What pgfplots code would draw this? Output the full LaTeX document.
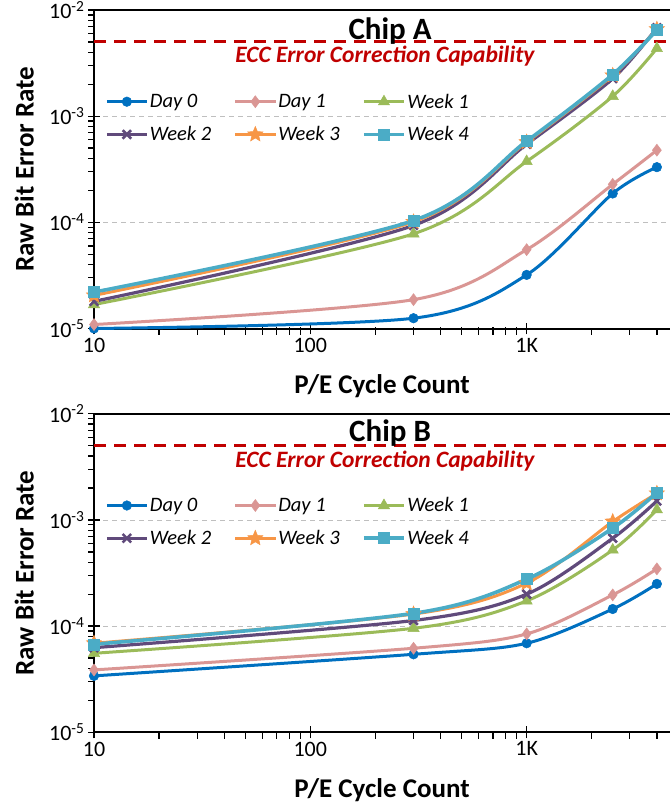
\documentclass[border=0pt]{standalone}
\usepackage{fontspec}
\setmainfont{Carlito}
\usepackage{pgfplots}
\pgfplotsset{compat=1.18}
\usetikzlibrary{plotmarks}

\definecolor{cDayA}{HTML}{0070C0}
\definecolor{cDayB}{HTML}{DA9694}
\definecolor{cWkA}{HTML}{9BBB59}
\definecolor{cWkB}{HTML}{604A7B}
\definecolor{cWkC}{HTML}{F79646}
\definecolor{cWkD}{HTML}{4BACC6}
\definecolor{eccred}{HTML}{C00000}

% filled five-pointed star
\pgfdeclareplotmark{fstar}{%
  \pgfpathmoveto{\pgfpointpolar{90}{\pgfplotmarksize}}%
  \pgfpathlineto{\pgfpointpolar{126}{0.45\pgfplotmarksize}}%
  \pgfpathlineto{\pgfpointpolar{162}{\pgfplotmarksize}}%
  \pgfpathlineto{\pgfpointpolar{198}{0.45\pgfplotmarksize}}%
  \pgfpathlineto{\pgfpointpolar{234}{\pgfplotmarksize}}%
  \pgfpathlineto{\pgfpointpolar{270}{0.45\pgfplotmarksize}}%
  \pgfpathlineto{\pgfpointpolar{306}{\pgfplotmarksize}}%
  \pgfpathlineto{\pgfpointpolar{342}{0.45\pgfplotmarksize}}%
  \pgfpathlineto{\pgfpointpolar{18}{\pgfplotmarksize}}%
  \pgfpathlineto{\pgfpointpolar{54}{0.45\pgfplotmarksize}}%
  \pgfpathclose
  \pgfusepathqfillstroke}

\pgfplotsset{
  every axis/.append style={
    width=576pt, height=318.5pt, scale only axis,
    xmin=10, xmax=4600, ymin=1e-5, ymax=1e-2,
    axis x line*=box, axis y line*=left,
    xtick pos=left, ytick pos=left,
    axis line style={line width=2pt, black},
    xtick={10,100,1000}, xticklabels={10,100,1K},
    extra x ticks={20,30,40,50,60,70,80,90,200,300,400,500,600,700,800,900,2000,3000,4000},
    extra x tick labels={},
    extra x tick style={major tick length=6.5pt, tick align=outside, grid=none},
    ytick={1e-5,1e-4,1e-3,1e-2},
    yticklabels={10\textsuperscript{-5},10\textsuperscript{-4},10\textsuperscript{-3},10\textsuperscript{-2}},
    extra y ticks={2e-5,3e-5,4e-5,5e-5,6e-5,7e-5,8e-5,9e-5,2e-4,3e-4,4e-4,5e-4,6e-4,7e-4,8e-4,9e-4,2e-3,3e-3,4e-3,5e-3,6e-3,7e-3,8e-3,9e-3},
    extra y tick labels={},
    extra y tick style={major tick length=6pt, tick align=outside, grid=none},
    tick align=center,
    major tick length=12pt,
    tick style={black, line width=1.3pt},
    ymajorgrids=true,
    major grid style={gray!50, line width=0.9pt, dash pattern=on 5pt off 4pt},
    tick label style={font=\fontsize{22}{26}\selectfont},
    xlabel={P/E Cycle Count}, ylabel={Raw Bit Error Rate},
    label style={font=\fontsize{27}{30}\selectfont\bfseries},
    x label style={at={(axis description cs:0.5,-0.204)}, anchor=base},
    y label style={at={(axis description cs:-0.105,0.5)}, anchor=base},
    clip=false,
    legend columns=3,
    legend cell align=left,
    legend style={at={(rel axis cs:0.014,0.750)}, anchor=north west, draw=none, fill=none,
      font=\fontsize{20.5}{24}\selectfont\itshape,
      nodes={inner xsep=1.5pt},
      row sep=13pt,
      /tikz/every even column/.append style={column sep=21pt}},
    legend image code/.code={\draw[mark repeat=2,mark phase=2,##1] plot coordinates {(0pt,0pt) (20pt,0pt) (40pt,0pt)};},
  },
  sDayA/.style={cDayA, smooth, line width=3pt, mark=*, mark size=4.8pt, mark options={solid, fill=cDayA, line width=0.5pt}},
  sDayB/.style={cDayB, smooth, line width=3pt, mark=diamond*, mark size=6pt, mark options={solid, fill=cDayB, line width=0.5pt}},
  sWkA/.style={cWkA, smooth, line width=3pt, mark=triangle*, mark size=6.5pt, mark options={solid, fill=cWkA, line width=0.5pt}},
  sWkB/.style={cWkB, smooth, line width=3.2pt, mark=x, mark size=6pt, mark options={solid, line width=2.6pt}},
  sWkC/.style={cWkC, smooth, line width=3pt, mark=fstar, mark size=8pt, mark options={solid, fill=cWkC, line width=0.5pt}},
  sWkD/.style={cWkD, smooth, line width=3.6pt, mark=square*, mark size=5.5pt, mark options={solid, fill=cWkD, line width=0.5pt}},
  sEcc/.style={eccred, line width=3pt, dash pattern=on 12pt off 8pt, no marks, sharp plot, forget plot},
}

\begin{document}
\begin{tikzpicture}
\path[use as bounding box] (0pt,0pt) rectangle (670pt,803pt);

% Chip A
\begin{loglogaxis}[at={(94pt,474.5pt)}, anchor=south west]
\addplot[sEcc] coordinates {(10,5e-3) (4600,5e-3)};
\addplot[sDayA] coordinates {(10,1.0e-5) (300,1.25e-5) (1000,3.2e-5) (2500,1.87e-4) (4000,3.31e-4)};
\addplot[sDayB] coordinates {(10,1.09e-5) (300,1.87e-5) (1000,5.53e-5) (2500,2.28e-4) (4000,4.78e-4)};
\addplot[sWkA] coordinates {(10,1.68e-5) (300,7.8e-5) (1000,3.75e-4) (2500,1.54e-3) (4000,4.35e-3)};
\addplot[sWkB] coordinates {(10,1.8e-5) (300,9.35e-5) (1000,5.44e-4) (2500,2.26e-3) (4000,6.8e-3)};
\addplot[sWkC] coordinates {(10,2.05e-5) (300,1.01e-4) (1000,5.7e-4) (2500,2.42e-3) (4000,6.6e-3)};
\addplot[sWkD] coordinates {(10,2.2e-5) (300,1.04e-4) (1000,5.82e-4) (2500,2.47e-3) (4000,6.5e-3)};
\legend{Day 0, Day 1, Week 1, Week 2, Week 3, Week 4}
\node[anchor=base, font=\fontsize{31}{34}\selectfont\bfseries] at (rel axis cs:0.514,0.908) {Chip A};
\node[anchor=base, text=eccred, font=\fontsize{23.5}{26}\selectfont\bfseries\itshape] at (rel axis cs:0.505,0.834) {ECC Error Correction Capability};
\end{loglogaxis}

% Chip B
\begin{loglogaxis}[at={(94pt,70.7pt)}, anchor=south west]
\addplot[sEcc] coordinates {(10,5e-3) (4600,5e-3)};
\addplot[sDayA] coordinates {(10,3.4e-5) (300,5.43e-5) (1000,6.9e-5) (2500,1.45e-4) (4000,2.5e-4)};
\addplot[sDayB] coordinates {(10,3.87e-5) (300,6.19e-5) (1000,8.45e-5) (2500,1.97e-4) (4000,3.46e-4)};
\addplot[sWkA] coordinates {(10,5.55e-5) (300,9.55e-5) (1000,1.73e-4) (2500,5.22e-4) (4000,1.25e-3)};
\addplot[sWkB] coordinates {(10,6.27e-5) (300,1.13e-4) (1000,2.0e-4) (2500,6.73e-4) (4000,1.51e-3)};
\addplot[sWkC] coordinates {(10,6.9e-5) (300,1.3e-4) (1000,2.54e-4) (2500,9.66e-4) (4000,1.78e-3)};
\addplot[sWkD] coordinates {(10,6.75e-5) (300,1.32e-4) (1000,2.77e-4) (2500,8.37e-4) (4000,1.81e-3)};
\legend{Day 0, Day 1, Week 1, Week 2, Week 3, Week 4}
\node[anchor=base, font=\fontsize{31}{34}\selectfont\bfseries] at (rel axis cs:0.514,0.913) {Chip B};
\node[anchor=base, text=eccred, font=\fontsize{23.5}{26}\selectfont\bfseries\itshape] at (rel axis cs:0.505,0.830) {ECC Error Correction Capability};
\end{loglogaxis}
\end{tikzpicture}
\end{document}
